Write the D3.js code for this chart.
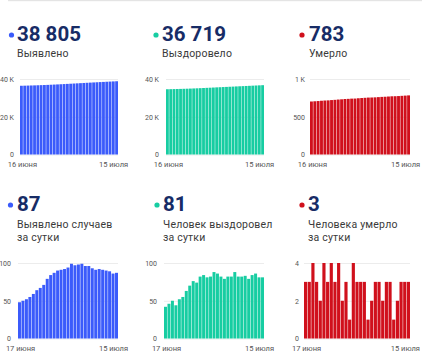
<!DOCTYPE html>
<html><head><meta charset="utf-8">
<script src="https://cdn.jsdelivr.net/npm/d3@7"></script>
<style>
html,body{margin:0;padding:0;background:#fff;}
svg{display:block;font-family:Roboto,"Noto Sans",sans-serif;}
</style></head>
<body>
<svg id="c" width="430" height="360"></svg>
<script>
// ---- data ----
const datesTop = ["16 июня","15 июля"];
const datesBottom = ["17 июня","15 июля"];

const totalCases = [36418,36466,36516,36568,36623,36682,36746,36813,36884,36963,37047,37134,37224,37315,37407,37501,37600,37697,37795,37894,37990,38086,38179,38270,38362,38453,38543,38632,38718,38805];
const totalRecovered = [34573,34615,34661,34711,34755,34807,34862,34925,34995,35071,35145,35227,35311,35392,35474,35562,35648,35730,35809,35891,35973,36061,36143,36225,36308,36387,36471,36557,36638,36719];
const totalDeaths = [702,705,708,712,715,717,721,724,728,731,735,737,740,741,745,748,751,754,755,757,760,763,765,768,771,772,774,777,780,783];

const dailyCases = [48,50,52,55,59,64,67,71,79,84,87,90,91,92,94,99,97,98,99,96,96,93,91,92,91,90,89,86,87];
const dailyRecovered = [42,46,50,44,52,55,63,70,76,74,82,84,81,82,88,86,82,79,82,82,88,82,82,83,79,84,86,81,81];
const dailyDeaths = [3,3,4,3,2,4,3,4,3,4,2,3,1,4,3,3,3,1,2,3,3,2,3,3,1,2,3,3,3];

const headlineTop = ["38 805","36 719","783"];
const headlineBottom = ["87","81","3"];
const labelsTop = [["Выявлено"],["Выздоровело"],["Умерло"]];
const labelsBottom = [["Выявлено случаев","за сутки"],["Человек выздоровел","за сутки"],["Человека умерло","за сутки"]];

const ticksTop = [[0,20000,40000],[0,20000,40000],[0,500,1000]];
const tickLabelsTop = [["0","20 K","40 K"],["0","20 K","40 K"],["0","500","1 K"]];
const ticksBottom = [[0,50,100],[0,50,100],[0,2,4]];
const tickLabelsBottom = [["0","50","100"],["0","50","100"],["0","2","4"]];

const colors = ["#3b5bfb","#17cda2","#d0101c"];

// ---- drawing ----
const svg = d3.select("#c");
// faint top edge of card above
svg.append("rect").attr("x",8).attr("y",0).attr("width",414).attr("height",1.2).attr("fill","#e4e4e4");

function panel(o){
  const g = svg.append("g");
  // headline
  g.append("circle").attr("cx",o.dotX).attr("cy",o.numY-6).attr("r",2.6).attr("fill",o.color);
  g.append("text").attr("x",o.textX).attr("y",o.numY).attr("font-size",20.5).attr("font-weight",700)
    .attr("fill","#172c66").text(o.number);
  o.label.forEach((t,i)=>{
    g.append("text").attr("x",o.textX).attr("y",o.labelY+i*12.5).attr("font-size",10.5)
      .attr("fill","#3a3a3a").attr("letter-spacing",0.2).text(t);
  });
  // chart
  const x = d3.scaleBand().domain(d3.range(o.values.length)).range([o.x0,o.x1]).paddingInner(0.14).paddingOuter(0);
  const y = d3.scaleLinear().domain([0,o.ticks[o.ticks.length-1]]).range([o.yBottom,o.yTop]);
  const ax = d3.axisLeft(y).tickValues(o.ticks).tickSize(-(o.x1-o.x0)).tickPadding(o.x0-o.labelRight)
    .tickFormat((d,i)=>o.tickLabels[i]);
  const ag = g.append("g").attr("transform",`translate(${o.x0},0)`).call(ax);
  ag.select(".domain").remove();
  ag.selectAll("line").attr("stroke","#ececec");
  ag.selectAll("text").attr("font-size",7).attr("fill","#555").attr("font-family","Roboto,sans-serif");
  g.selectAll("rect.bar").data(o.values).join("rect").attr("class","bar")
    .attr("x",(d,i)=>x(i)).attr("width",x.bandwidth())
    .attr("y",d=>y(d)).attr("height",d=>y(0)-y(d)).attr("fill",o.color);
  const n = o.values.length;
  g.append("text").attr("x",x(0)+x.bandwidth()/2+1).attr("y",o.yBottom+12).attr("text-anchor","middle")
    .attr("font-size",7.5).attr("fill","#555").text(o.dates[0]);
  g.append("text").attr("x",x(n-1)+x.bandwidth()/2-3).attr("y",o.yBottom+12).attr("text-anchor","middle")
    .attr("font-size",7.5).attr("fill","#555").text(o.dates[1]);
}

const topVals = [totalCases,totalRecovered,totalDeaths];
const botVals = [dailyCases,dailyRecovered,dailyDeaths];
const topGeom = [{dotX:11.5,textX:17,x0:20,x1:118,labelRight:14},
                 {dotX:156,textX:162,x0:166,x1:264,labelRight:159},
                 {dotX:302,textX:309,x0:310,x1:410,labelRight:305}];
const botGeom = [{dotX:10.5,textX:17,x0:18,x1:118,labelRight:11},
                 {dotX:157,textX:163,x0:164,x1:264,labelRight:157},
                 {dotX:302,textX:308,x0:304,x1:410,labelRight:299}];

for(let i=0;i<3;i++){
  panel(Object.assign({},topGeom[i],{color:colors[i],number:headlineTop[i],label:labelsTop[i],
    numY:41,labelY:57,values:topVals[i],ticks:ticksTop[i],tickLabels:tickLabelsTop[i],
    yTop:79,yBottom:154.5,dates:datesTop}));
  panel(Object.assign({},botGeom[i],{color:colors[i],number:headlineBottom[i],label:labelsBottom[i],
    numY:211,labelY:228,values:botVals[i],ticks:ticksBottom[i],tickLabels:tickLabelsBottom[i],
    yTop:263,yBottom:338.5,dates:datesBottom}));
}
</script>
</body></html>
